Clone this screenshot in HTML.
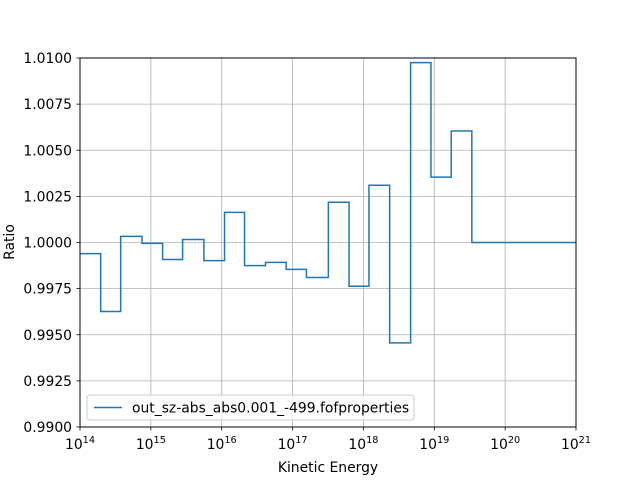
<!DOCTYPE html>
<html><head><meta charset="utf-8"><style>
body{margin:0;background:#fff}
svg{display:block;font-family:"DejaVu Sans","Liberation Sans",sans-serif}
</style></head><body>
<svg id="chart" width="640" height="480" xmlns="http://www.w3.org/2000/svg">
<rect x="0" y="0" width="640" height="480" fill="#fff"/>
<g id="grid"></g>
<g id="ticks"></g>
<path id="series" fill="none" stroke="#1f77b4" stroke-width="1.5"/>
<rect x="80" y="58" width="496" height="369" fill="none" stroke="#000" stroke-width="1"/>
<text x="328" y="472" text-anchor="middle" font-size="13.9">Kinetic Energy</text>
<text x="14" y="242" text-anchor="middle" font-size="13.9" transform="rotate(-90 14 242)">Ratio</text>
<g>
<rect x="87" y="395" width="327" height="25" rx="3" fill="#fff" fill-opacity="0.8" stroke="#ccc"/>
<line x1="94" y1="407.5" x2="122" y2="407.5" stroke="#1f77b4" stroke-width="1.5"/>
<text x="132" y="412.5" font-size="13.9">out_sz-abs_abs0.001_-499.fofproperties</text>
</g>
</svg>
<script>
const edgesLog=[14,14.292,14.574,14.875,15.166,15.448,15.749,16.04,16.322,16.618,16.91,17.196,17.505,17.797,18.078,18.37,18.666,18.953,19.239,19.53,21];
const ratios=[0.9994,0.99626,1.00033,0.99995,0.99908,1.00016,0.99902,1.00163,0.99875,0.99892,0.99854,0.9981,1.00218,0.99763,1.0031,0.99456,1.00975,1.00354,1.00604,1.0];
const xTicks=[14,15,16,17,18,19,20,21];
const yTicks=[0.99,0.9925,0.995,0.9975,1.0,1.0025,1.005,1.0075,1.01];
const NS='http://www.w3.org/2000/svg';
const X=l=>80+(l-14)/7*496;
const Y=v=>427-(v-0.99)/0.02*369;
const grid=document.getElementById('grid'),ticks=document.getElementById('ticks');
function mk(tag,a,p){const e=document.createElementNS(NS,tag);for(const k in a)e.setAttribute(k,a[k]);p.appendChild(e);return e;}
xTicks.forEach(t=>{const x=X(t);
 const g=mk('line',{x1:x,x2:x,y1:58,y2:427,stroke:'#b0b0b0','stroke-width':0.8},grid);
 
 
 const tk=mk('line',{x1:x,x2:x,y1:427,y2:430.5,stroke:'#000','stroke-width':0.8},ticks);
 
 
 const tx=mk('text',{x:x,y:449,'text-anchor':'middle','font-size':13.9},ticks);
 
 
 tx.textContent='10';const s=mk('tspan',{dy:-6,'font-size':9.7},tx);s.textContent=String(t);
});
yTicks.forEach(t=>{const y=Y(t);
 const g=mk('line',{x1:80,x2:576,y1:y,y2:y,stroke:'#b0b0b0','stroke-width':0.8},grid);
 
 
 const tk=mk('line',{x1:76.5,x2:80,y1:y,y2:y,stroke:'#000','stroke-width':0.8},ticks);
 
 
 const tx=mk('text',{x:72,y:y+5,'text-anchor':'end','font-size':13.9},ticks);
 
 
 tx.textContent=t.toFixed(4);
});
let d='';
ratios.forEach((v,i)=>{const x0=X(edgesLog[i]),x1=X(edgesLog[i+1]),y=Y(v);
 d+=(i?'L':'M')+x0+','+y+'L'+x1+','+y;});
document.getElementById('series').setAttribute('d',d);
</script>
</body></html>
